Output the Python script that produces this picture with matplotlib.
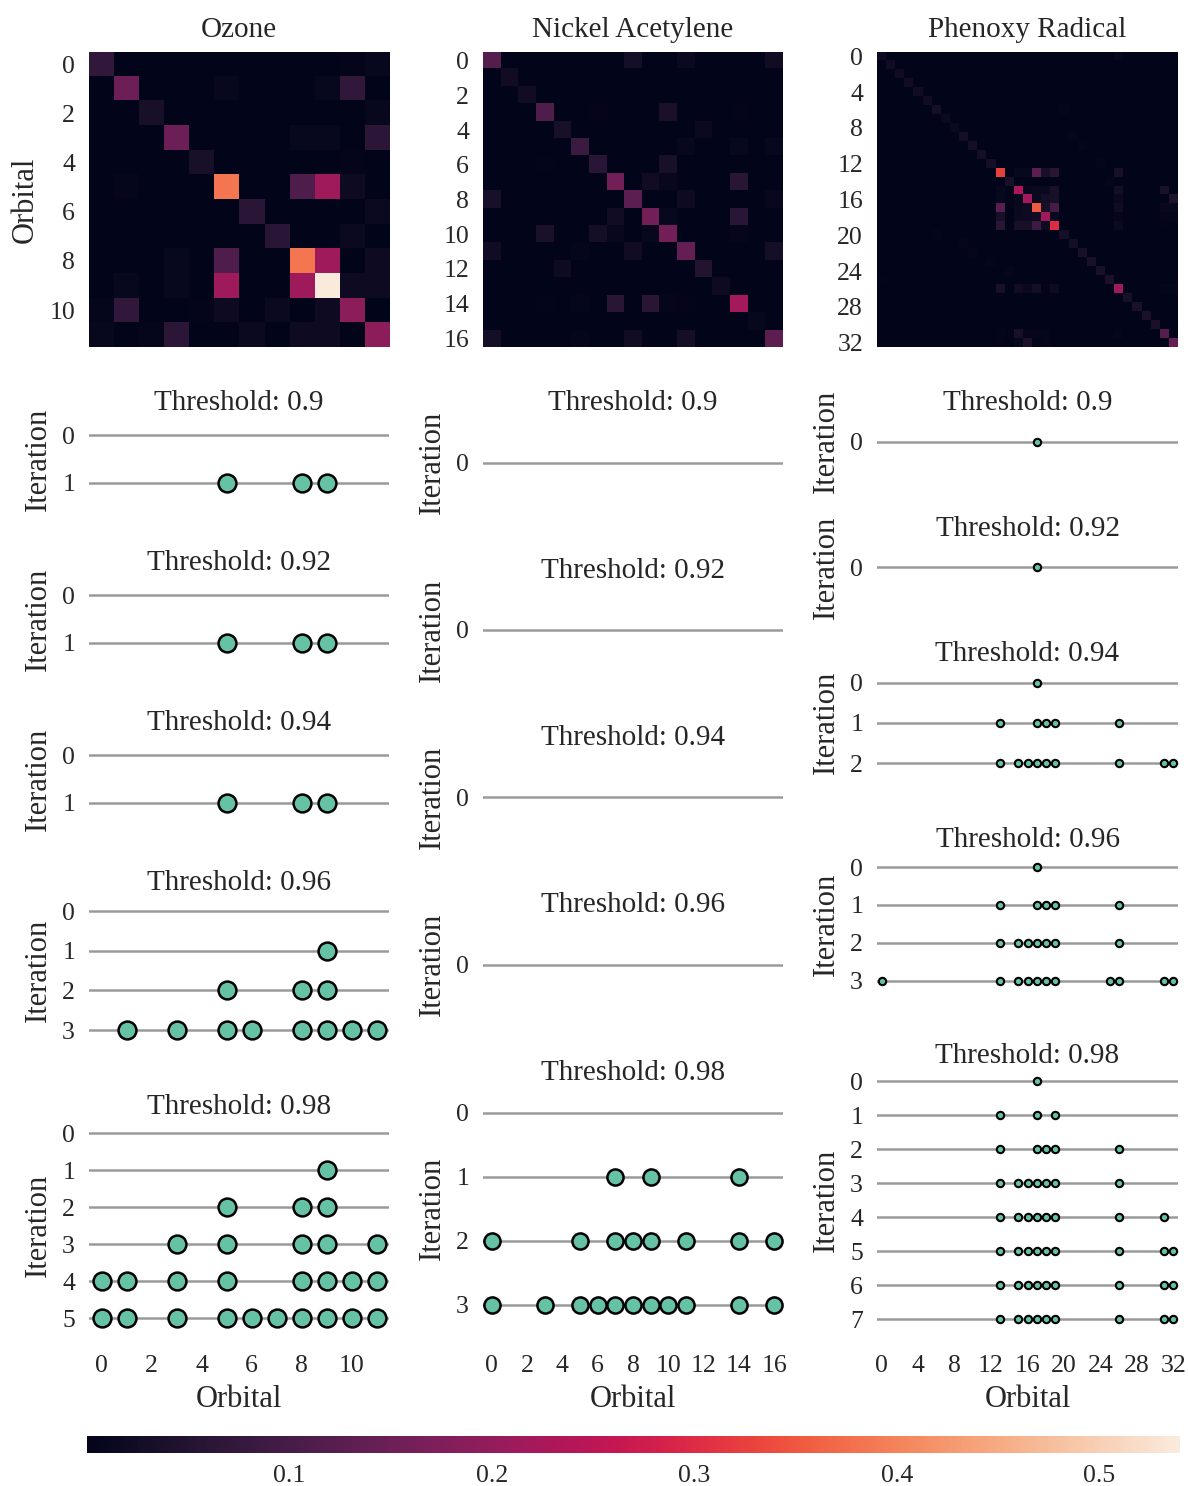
import numpy as np
import matplotlib
matplotlib.use("Agg")
import matplotlib.pyplot as plt
import seaborn as sns
from matplotlib.colors import Normalize
from matplotlib.cm import ScalarMappable

# ---------------------------------------------------------------- data
molecules = ["Ozone", "Nickel Acetylene", "Phenoxy Radical"]
n_orbitals = [12, 17, 33]
thresholds = [0.9, 0.92, 0.94, 0.96, 0.98]

# orbital correlation matrices: diagonal values and notable off-diagonal entries (row, col, value)
ozone_diag = [0.07, 0.15, 0.035, 0.15, 0.035, 0.385, 0.06, 0.06, 0.385, 0.54, 0.19, 0.19]
ozone_offdiag = [
    (0, 10, 0.005), (0, 11, 0.01),
    (1, 5, 0.01), (1, 9, 0.01), (1, 10, 0.07),
    (2, 11, 0.01),
    (3, 8, 0.01), (3, 9, 0.01), (3, 11, 0.065),
    (4, 10, 0.005),
    (5, 1, 0.008), (5, 8, 0.11), (5, 9, 0.215), (5, 10, 0.02),
    (6, 11, 0.015),
    (7, 10, 0.015),
    (8, 3, 0.01), (8, 5, 0.11), (8, 9, 0.215), (8, 11, 0.02),
    (9, 1, 0.01), (9, 3, 0.01), (9, 5, 0.215), (9, 8, 0.215), (9, 10, 0.02), (9, 11, 0.02),
    (10, 0, 0.008), (10, 1, 0.07), (10, 4, 0.005), (10, 5, 0.02), (10, 7, 0.015), (10, 9, 0.02),
    (11, 0, 0.01), (11, 2, 0.008), (11, 3, 0.065), (11, 6, 0.015), (11, 8, 0.02), (11, 9, 0.02),
]

nickel_diag = [0.12, 0.025, 0.025, 0.11, 0.035, 0.085, 0.06, 0.16, 0.13, 0.16,
               0.16, 0.14, 0.05, 0.02, 0.22, 0.01, 0.13]
nickel_offdiag = [
    (0, 8, 0.03), (0, 11, 0.015), (0, 16, 0.025),
    (3, 6, 0.005), (3, 10, 0.04), (3, 14, 0.005),
    (4, 12, 0.015),
    (5, 11, 0.01), (5, 14, 0.01), (5, 16, 0.01),
    (6, 3, 0.003), (6, 10, 0.035),
    (7, 9, 0.025), (7, 10, 0.012), (7, 14, 0.06),
    (8, 0, 0.035), (8, 11, 0.02), (8, 16, 0.012),
    (9, 7, 0.025), (9, 10, 0.01), (9, 14, 0.06),
    (10, 3, 0.04), (10, 6, 0.03), (10, 7, 0.012), (10, 9, 0.01), (10, 14, 0.008),
    (11, 0, 0.025), (11, 5, 0.008), (11, 8, 0.025), (11, 16, 0.03),
    (12, 4, 0.02),
    (14, 3, 0.005), (14, 5, 0.008), (14, 7, 0.06), (14, 9, 0.06), (14, 10, 0.008), (14, 11, 0.005),
    (16, 0, 0.03), (16, 5, 0.008), (16, 8, 0.025), (16, 11, 0.03),
]

phenoxy_diag = [0.02, 0.025, 0.025, 0.025, 0.025, 0.025, 0.03, 0.015, 0.015, 0.03,
                0.03, 0.03, 0.03, 0.325, 0.035, 0.23, 0.22, 0.355, 0.215, 0.30,
                0.03, 0.03, 0.035, 0.035, 0.035, 0.04, 0.215, 0.035, 0.04, 0.04,
                0.04, 0.12, 0.14]
phenoxy_offdiag = [
    (0, 26, 0.01), (6, 20, 0.008), (9, 21, 0.008), (10, 22, 0.008), (12, 24, 0.008),
    (13, 15, 0.01), (13, 16, 0.01), (13, 17, 0.13), (13, 18, 0.035), (13, 19, 0.06), (13, 26, 0.035),
    (14, 25, 0.008),
    (15, 13, 0.01), (15, 16, 0.01), (15, 17, 0.015), (15, 18, 0.015), (15, 19, 0.04),
    (15, 26, 0.03), (15, 31, 0.04),
    (16, 13, 0.01), (16, 15, 0.01), (16, 17, 0.015), (16, 18, 0.03), (16, 19, 0.035),
    (16, 26, 0.015), (16, 32, 0.045),
    (17, 13, 0.125), (17, 15, 0.015), (17, 16, 0.02), (17, 18, 0.035), (17, 19, 0.10),
    (17, 26, 0.025), (17, 31, 0.01), (17, 32, 0.01),
    (18, 13, 0.035), (18, 15, 0.015), (18, 16, 0.02), (18, 17, 0.025), (18, 19, 0.015),
    (18, 26, 0.008), (18, 31, 0.008), (18, 32, 0.008),
    (19, 13, 0.06), (19, 15, 0.035), (19, 16, 0.035), (19, 17, 0.09), (19, 18, 0.02),
    (19, 26, 0.015), (19, 31, 0.005),
    (20, 6, 0.008), (21, 9, 0.008), (22, 10, 0.008), (23, 12, 0.008), (24, 14, 0.008), (25, 0, 0.005),
    (26, 13, 0.035), (26, 15, 0.025), (26, 16, 0.015), (26, 17, 0.03), (26, 18, 0.005),
    (26, 19, 0.02), (26, 31, 0.008), (26, 32, 0.008),
    (31, 13, 0.008), (31, 15, 0.035), (31, 16, 0.008), (31, 17, 0.008), (31, 18, 0.008), (31, 26, 0.008),
    (32, 13, 0.005), (32, 15, 0.01), (32, 16, 0.04), (32, 18, 0.008),
]

# orbitals selected at each iteration, per threshold
ozone_selected = {
    0.9: [[], [5, 8, 9]],
    0.92: [[], [5, 8, 9]],
    0.94: [[], [5, 8, 9]],
    0.96: [[], [9], [5, 8, 9], [1, 3, 5, 6, 8, 9, 10, 11]],
    0.98: [[], [9], [5, 8, 9], [3, 5, 8, 9, 11], [0, 1, 3, 5, 8, 9, 10, 11],
           [0, 1, 3, 5, 6, 7, 8, 9, 10, 11]],
}
nickel_selected = {
    0.9: [[]],
    0.92: [[]],
    0.94: [[]],
    0.96: [[]],
    0.98: [[], [7, 9, 14], [0, 5, 7, 8, 9, 11, 14, 16],
           [0, 3, 5, 6, 7, 8, 9, 10, 11, 14, 16]],
}
phenoxy_selected = {
    0.9: [[17]],
    0.92: [[17]],
    0.94: [[17], [13, 17, 18, 19, 26], [13, 15, 16, 17, 18, 19, 26, 31, 32]],
    0.96: [[17], [13, 17, 18, 19, 26], [13, 15, 16, 17, 18, 19, 26],
           [0, 13, 15, 16, 17, 18, 19, 25, 26, 31, 32]],
    0.98: [[17], [13, 17, 19], [13, 17, 18, 19, 26], [13, 15, 16, 17, 18, 19, 26],
           [13, 15, 16, 17, 18, 19, 26, 31], [13, 15, 16, 17, 18, 19, 26, 31, 32],
           [13, 15, 16, 17, 18, 19, 26, 31, 32], [13, 15, 16, 17, 18, 19, 26, 31, 32]],
}

heatmap_tick_step = [2, 2, 4]
colorbar_ticks = [0.1, 0.2, 0.3, 0.4, 0.5]

# ---------------------------------------------------------------- style
plt.rcParams['font.family'] = ['Liberation Serif', 'DejaVu Serif']
plt.rcParams['font.size'] = 18.5
TEXT = '#262626'
plt.rcParams['text.color'] = TEXT
plt.rcParams['axes.labelcolor'] = TEXT
plt.rcParams['xtick.color'] = TEXT
plt.rcParams['ytick.color'] = TEXT
TITLE_SIZE = 21
LABEL_SIZE = 22

cmap = sns.color_palette("rocket", as_cmap=True)
DOT_FACE = '#66c2a5'
LINE_GRAY = '#9a9a9a'
marker_sizes = [165, 135, 28]
marker_edge = [1.8, 1.8, 1.5]

W, H = 1188, 1486
fig = plt.figure(figsize=(W / 100, H / 100), dpi=100)


def px_axes(left, top, width, height):
    return fig.add_axes([left / W, 1 - (top + height) / H, width / W, height / H])


def build_matrix(n, diag, offdiag):
    m = np.zeros((n, n))
    m[np.arange(n), np.arange(n)] = diag
    for i, j, v in offdiag:
        m[i, j] = v
    return m


matrices = [
    build_matrix(n_orbitals[0], ozone_diag, ozone_offdiag),
    build_matrix(n_orbitals[1], nickel_diag, nickel_offdiag),
    build_matrix(n_orbitals[2], phenoxy_diag, phenoxy_offdiag),
]
selections = [ozone_selected, nickel_selected, phenoxy_selected]
norm = Normalize(vmin=0.0, vmax=max(m.max() for m in matrices))

col_left = [89, 483, 877]
col_width = [300, 300, 301]
HM_TOP, HM_H = 52, 295
DOT_TOP, DOT_BOTTOM, DOT_GAP = 411.5, 1336.5, 65

for c in range(3):
    n = n_orbitals[c]
    # heatmap
    ax = px_axes(col_left[c], HM_TOP, col_width[c], HM_H)
    ax.imshow(matrices[c], cmap=cmap, norm=norm, aspect='auto', interpolation='nearest')
    ax.set_xticks([])
    ticks = list(range(0, n, heatmap_tick_step[c]))
    ax.set_yticks(ticks)
    ax.set_yticklabels([str(t) for t in ticks])
    ax.tick_params(axis='y', length=0, pad=10)
    for s in ax.spines.values():
        s.set_visible(False)
    ax.set_title(molecules[c], pad=10.5, fontsize=TITLE_SIZE)
    if c == 0:
        ax.set_ylabel("Orbital", labelpad=7, fontsize=LABEL_SIZE)

    # per-threshold iteration rows
    sel = selections[c]
    weights = [len(sel[t]) + 1 for t in thresholds]
    avail = (DOT_BOTTOM - DOT_TOP) - DOT_GAP * (len(thresholds) - 1)
    unit = avail / sum(weights)
    top = DOT_TOP
    for k, t in enumerate(thresholds):
        h = weights[k] * unit
        iters = sel[t]
        ax = px_axes(col_left[c], top, col_width[c], h)
        ax.set_xlim(-0.5, n - 0.5)
        ax.set_ylim(len(iters) - 0.5, -0.5)
        for it, orbs in enumerate(iters):
            ax.axhline(it, color=LINE_GRAY, lw=1.8, zorder=1)
            if orbs:
                ax.scatter(orbs, [it] * len(orbs), s=marker_sizes[c], facecolor=DOT_FACE,
                           edgecolor='black', linewidth=marker_edge[c], zorder=3, clip_on=False)
        ax.set_yticks(range(len(iters)))
        ax.set_yticklabels([str(i) for i in range(len(iters))])
        ax.set_ylabel("Iteration", labelpad=7, fontsize=LABEL_SIZE)
        ax.tick_params(axis='y', length=0, pad=10)
        ax.tick_params(axis='x', length=0, pad=13)
        for s in ax.spines.values():
            s.set_visible(False)
        # title placed just above the top edge of the panel
        ax.set_title(f"Threshold: {t}", y=1 + 1.0 / h, pad=0, fontsize=TITLE_SIZE)
        if k == len(thresholds) - 1:
            xt = list(range(0, n, heatmap_tick_step[c]))
            ax.set_xticks(xt)
            ax.set_xticklabels([str(x) for x in xt])
            ax.set_xlabel("Orbital", labelpad=6, fontsize=LABEL_SIZE)
        else:
            ax.set_xticks([])
        top += h + DOT_GAP

# shared colour scale
cax = px_axes(87, 1436, 1093, 17)
cb = fig.colorbar(ScalarMappable(norm=norm, cmap=cmap), cax=cax, orientation='horizontal')
cb.outline.set_visible(False)
cb.set_ticks(colorbar_ticks)
cb.set_ticklabels([f"{v:.1f}" for v in colorbar_ticks])
cax.tick_params(length=0, pad=9)

fig.savefig("out.png", dpi=100)
